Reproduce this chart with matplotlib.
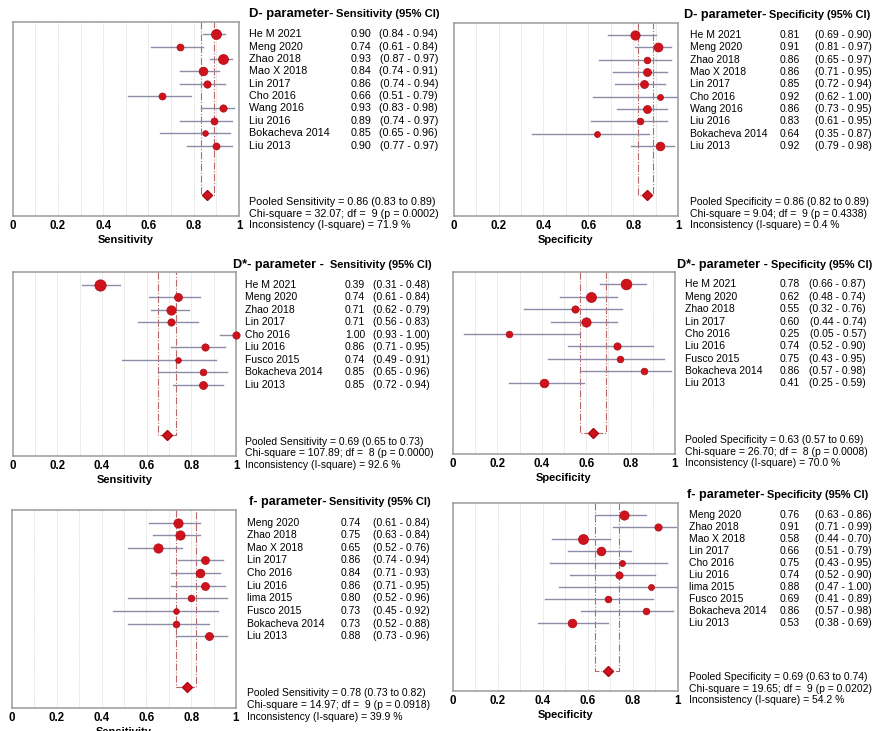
import numpy as np
import matplotlib
matplotlib.use("Agg")
from matplotlib import pyplot as plt

plt.rcParams["font.family"] = ["Liberation Sans", "DejaVu Sans"]

# ---- data ----
d_studies = ["He M 2021", "Meng 2020", "Zhao 2018", "Mao X 2018", "Lin 2017",
             "Cho 2016", "Wang 2016", "Liu 2016", "Bokacheva 2014", "Liu 2013"]
ds_studies = ["He M 2021", "Meng 2020", "Zhao 2018", "Lin 2017", "Cho 2016",
              "Liu 2016", "Fusco 2015", "Bokacheva 2014", "Liu 2013"]
f_studies = ["Meng 2020", "Zhao 2018", "Mao X 2018", "Lin 2017", "Cho 2016",
             "Liu 2016", "lima 2015", "Fusco 2015", "Bokacheva 2014", "Liu 2013"]

d_sens = [0.90, 0.74, 0.93, 0.84, 0.86, 0.66, 0.93, 0.89, 0.85, 0.90]
d_sens_lo = [0.84, 0.61, 0.87, 0.74, 0.74, 0.51, 0.83, 0.74, 0.65, 0.77]
d_sens_hi = [0.94, 0.84, 0.97, 0.91, 0.94, 0.79, 0.98, 0.97, 0.96, 0.97]
d_sens_w = [1.0, 0.7, 1.0, 0.87, 0.73, 0.7, 0.73, 0.7, 0.57, 0.7]

d_spec = [0.81, 0.91, 0.86, 0.86, 0.85, 0.92, 0.86, 0.83, 0.64, 0.92]
d_spec_lo = [0.69, 0.81, 0.65, 0.71, 0.72, 0.62, 0.73, 0.61, 0.35, 0.79]
d_spec_hi = [0.90, 0.97, 0.97, 0.95, 0.94, 1.00, 0.95, 0.95, 0.87, 0.98]
d_spec_w = [0.93, 0.9, 0.67, 0.8, 0.8, 0.6, 0.8, 0.67, 0.6, 0.87]

ds_sens = [0.39, 0.74, 0.71, 0.71, 1.00, 0.86, 0.74, 0.85, 0.85]
ds_sens_lo = [0.31, 0.61, 0.62, 0.56, 0.93, 0.71, 0.49, 0.65, 0.72]
ds_sens_hi = [0.48, 0.84, 0.79, 0.83, 1.00, 0.95, 0.91, 0.96, 0.94]
ds_sens_w = [1.13, 0.8, 0.93, 0.73, 0.73, 0.73, 0.57, 0.67, 0.8]

ds_spec = [0.78, 0.62, 0.55, 0.60, 0.25, 0.74, 0.75, 0.86, 0.41]
ds_spec_lo = [0.66, 0.48, 0.32, 0.44, 0.05, 0.52, 0.43, 0.57, 0.25]
ds_spec_hi = [0.87, 0.74, 0.76, 0.74, 0.57, 0.90, 0.95, 0.98, 0.59]
ds_spec_w = [1.07, 1.0, 0.73, 0.93, 0.67, 0.73, 0.67, 0.67, 0.87]

f_sens = [0.74, 0.75, 0.65, 0.86, 0.84, 0.86, 0.80, 0.73, 0.73, 0.88]
f_sens_lo = [0.61, 0.63, 0.52, 0.74, 0.71, 0.71, 0.52, 0.45, 0.52, 0.73]
f_sens_hi = [0.84, 0.84, 0.76, 0.94, 0.93, 0.95, 0.96, 0.92, 0.88, 0.96]
f_sens_w = [0.93, 0.93, 0.93, 0.8, 0.87, 0.8, 0.67, 0.57, 0.67, 0.8]

f_spec = [0.76, 0.91, 0.58, 0.66, 0.75, 0.74, 0.88, 0.69, 0.86, 0.53]
f_spec_lo = [0.63, 0.71, 0.44, 0.51, 0.43, 0.52, 0.47, 0.41, 0.57, 0.38]
f_spec_hi = [0.86, 0.99, 0.70, 0.79, 0.95, 0.90, 1.00, 0.89, 0.98, 0.69]
f_spec_w = [0.93, 0.73, 1.0, 0.87, 0.6, 0.73, 0.6, 0.67, 0.67, 0.87]

# pooled: estimate, lo, hi, chi-square, df, p, I-square
d_sens_pool = (0.86, 0.83, 0.89, "32.07", 9, "0.0002", "71.9")
d_spec_pool = (0.86, 0.82, 0.89, "9.04", 9, "0.4338", "0.4")
ds_sens_pool = (0.69, 0.65, 0.73, "107.89", 8, "0.0000", "92.6")
ds_spec_pool = (0.63, 0.57, 0.69, "26.70", 8, "0.0008", "70.0")
f_sens_pool = (0.78, 0.73, 0.82, "14.97", 9, "0.0918", "39.9")
f_spec_pool = (0.69, 0.63, 0.74, "19.65", 9, "0.0202", "54.2")

W, H = 873, 731
fig = plt.figure(figsize=(W / 100, H / 100), dpi=100)

red = "#d0121c"
ci_col = "#8c8ca8"
ref_col = "#b86a6a"


def forest(box, cols, fs, studies, est, lo, hi, w, pool, prefix, measure):
    l, r, t, b = box
    # text columns given in pixels -> data x
    xt, xn, xv, xc = [(c - l) / (r - l) for c in cols]
    ax = fig.add_axes([l / W, 1 - b / H, (r - l) / W, (b - t) / H])
    n = len(studies)
    y = np.arange(n)
    yp = n + 3
    ax.set_xlim(0, 1)
    ax.set_ylim(n + 4.7, -1.0)

    for g in np.arange(0.1, 0.95, 0.1):
        ax.axvline(g, color="#d4d4d4", lw=0.6, ls=(0, (1, 1)), zorder=0)

    # pooled CI bracket
    ax.plot([pool[1], pool[1], pool[2], pool[2]], [-1.0, yp, yp, -1.0],
            color=ref_col, lw=0.8, ls="-.", zorder=1)

    for i in range(n):
        ax.plot([lo[i], hi[i]], [y[i], y[i]], color=ci_col, lw=1.0, zorder=2)
        ax.plot(est[i], y[i], "o", ms=7.2 * w[i], color=red,
                mec="#a80d16", mew=0.5, zorder=3, clip_on=False)
    ax.plot(pool[0], yp, "D", ms=5.5, color=red, mec="#a80d16", zorder=3)

    for s in ax.spines.values():
        s.set_color("#9a9a9a")
        s.set_linewidth(1.1)
    ax.set_yticks([])
    ax.set_xticks([0, 0.2, 0.4, 0.6, 0.8, 1])
    ax.set_xticklabels(["0", "0.2", "0.4", "0.6", "0.8", "1"],
                       fontweight="bold", fontsize=8.3)
    ax.tick_params(axis="x", length=0, pad=3)
    ax.set_xlabel(measure, fontweight="bold", fontsize=8, labelpad=2)

    # table to the right
    for i in range(n):
        ax.text(xn, y[i], studies[i], fontsize=fs, va="center", clip_on=False)
        ax.text(xv, y[i], "%.2f" % est[i], fontsize=fs, va="center", clip_on=False)
        ax.text(xc, y[i], "(%.2f - %.2f)" % (lo[i], hi[i]), fontsize=fs,
                va="center", ha="right", clip_on=False)

    tr = ax.get_xaxis_transform()
    t1 = ax.text(xt, 1.04, prefix, fontsize=fs * 1.21, fontweight="bold",
                 va="center", transform=tr)
    ax.annotate(measure + " (95% CI)", xy=(1, 0.5), xycoords=t1,
                xytext=(2, 0), textcoords="offset points",
                va="center", ha="left", fontsize=fs * 1.05, fontweight="bold")

    ax.text(xn, yp + 0.55, "Pooled %s = %.2f (%.2f to %.2f)"
            % (measure, pool[0], pool[1], pool[2]), fontsize=fs, va="center")
    ax.text(xn, yp + 1.5, "Chi-square = %s; df =  %d (p = %s)"
            % (pool[3], pool[4], pool[5]), fontsize=fs, va="center")
    ax.text(xn, yp + 2.45, "Inconsistency (I-square) = %s %%" % pool[6],
            fontsize=fs, va="center")
    return ax


forest((12.7, 239, 22, 216), (249, 249, 351, 438), 7.75, d_studies,
       d_sens, d_sens_lo, d_sens_hi, d_sens_w, d_sens_pool,
       "D- parameter-", "Sensitivity")
forest((453.7, 678, 22.7, 216), (684, 690, 780, 872), 7.5, d_studies,
       d_spec, d_spec_lo, d_spec_hi, d_spec_w, d_spec_pool,
       "D- parameter-", "Specificity")
forest((12.7, 236, 272, 456), (233, 245, 345, 430), 7.5, ds_studies,
       ds_sens, ds_sens_lo, ds_sens_hi, ds_sens_w, ds_sens_pool,
       "D*- parameter - ", "Sensitivity")
forest((453, 675, 272, 454), (677, 685, 780, 866), 7.5, ds_studies,
       ds_spec, ds_spec_lo, ds_spec_hi, ds_spec_w, ds_spec_pool,
       "D*- parameter -", "Specificity")
forest((12, 236, 510, 708), (249, 247, 341, 430), 7.5, f_studies,
       f_sens, f_sens_lo, f_sens_hi, f_sens_w, f_sens_pool,
       "f- parameter-", "Sensitivity")
forest((452.7, 678, 503, 691), (687, 689, 780, 872), 7.5, f_studies,
       f_spec, f_spec_lo, f_spec_hi, f_spec_w, f_spec_pool,
       "f- parameter-", "Specificity")

plt.savefig("out.png", dpi=100)
